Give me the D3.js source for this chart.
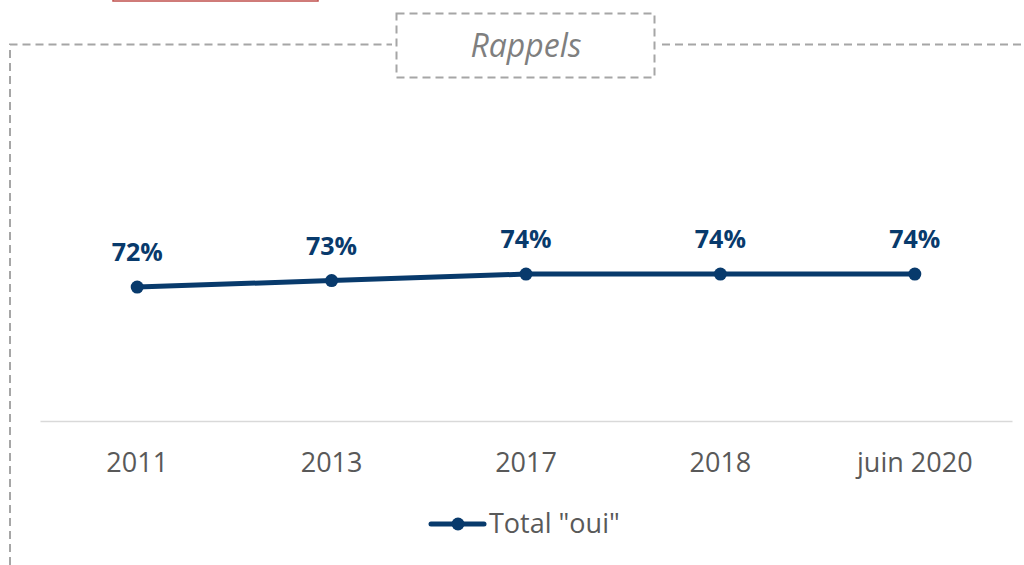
<!DOCTYPE html>
<html>
<head>
<meta charset="utf-8">
<script src="https://cdn.jsdelivr.net/npm/d3@7"></script>
<style>
html,body{margin:0;padding:0;background:#fff;}
svg{display:block;}
</style>
</head>
<body>
<svg id="chart" width="1024" height="565"></svg>
<script>
const categories = ["2011", "2013", "2017", "2018", "juin 2020"];
const values = [72, 73, 74, 74, 74];
const valueLabels = ["72%", "73%", "74%", "74%", "74%"];
const seriesName = 'Total "oui"';
const frameTitle = "Rappels";

const navy = "#083a6c";
const font = "'Open Sans', sans-serif";
const svg = d3.select("#chart");

// red bar remnant at top
svg.append("rect").attr("x", 113).attr("y", -10).attr("width", 205).attr("height", 11)
  .attr("fill", "none").attr("stroke", "#c0504d").attr("stroke-width", 1.5);

// dashed frame
const dash = "8,5";
const frameColor = "#a6a6a6";
svg.append("path").attr("d", "M10,565 L10,44.5 L392,44.5")
  .attr("fill", "none").attr("stroke", frameColor).attr("stroke-width", 2).attr("stroke-dasharray", dash);
svg.append("path").attr("d", "M662,44.5 L1024,44.5")
  .attr("fill", "none").attr("stroke", frameColor).attr("stroke-width", 2).attr("stroke-dasharray", dash);
svg.append("rect").attr("x", 396.5).attr("y", 13.5).attr("width", 258).attr("height", 64)
  .attr("fill", "none").attr("stroke", frameColor).attr("stroke-width", 2).attr("stroke-dasharray", dash);
svg.append("text").attr("x", 526).attr("y", 57).attr("text-anchor", "middle")
  .attr("font-family", font).attr("font-style", "italic").attr("font-size", 32)
  .attr("fill", "#7f7f7f").text(frameTitle);

// scales
const x = d3.scaleBand().domain(categories).range([40, 1012]).padding(0);
const cx = d => x(d) + x.bandwidth() / 2;
const y = d3.scaleLinear().domain([51.4, 90]).range([421, 170]);

// category axis
const axis = d3.axisBottom(x).tickSize(0).tickPadding(0);
const gAxis = svg.append("g").attr("transform", "translate(0,421)").call(axis);
gAxis.select(".domain").attr("stroke", "#d9d9d9").attr("stroke-width", 1.5);
gAxis.selectAll("text").attr("font-family", font).attr("font-size", 27)
  .attr("fill", "#595959").attr("dy", null).attr("y", 51);

const data = categories.map((c, i) => ({c, v: values[i], label: valueLabels[i]}));

// line
svg.append("path").datum(data)
  .attr("d", d3.line().x(d => cx(d.c)).y(d => y(d.v)))
  .attr("fill", "none").attr("stroke", navy).attr("stroke-width", 5).attr("stroke-linejoin", "round");

svg.selectAll("circle.pt").data(data).enter().append("circle").attr("class", "pt")
  .attr("cx", d => cx(d.c)).attr("cy", d => y(d.v)).attr("r", 6.5).attr("fill", navy);

svg.selectAll("text.lbl").data(data).enter().append("text").attr("class", "lbl")
  .attr("x", d => cx(d.c)).attr("y", d => y(d.v) - 26)
  .attr("text-anchor", "middle").attr("font-family", font).attr("font-weight", "bold")
  .attr("font-size", 25).attr("fill", navy).text(d => d.label);

// legend
const lg = svg.append("g");
lg.append("line").attr("x1", 431).attr("x2", 484).attr("y1", 524).attr("y2", 524)
  .attr("stroke", navy).attr("stroke-width", 5).attr("stroke-linecap", "round");
lg.append("circle").attr("cx", 458).attr("cy", 524).attr("r", 6.5).attr("fill", navy);
lg.append("text").attr("x", 489).attr("y", 533).attr("font-family", font).attr("font-size", 27)
  .attr("fill", "#595959").text(seriesName);
</script>
</body>
</html>
